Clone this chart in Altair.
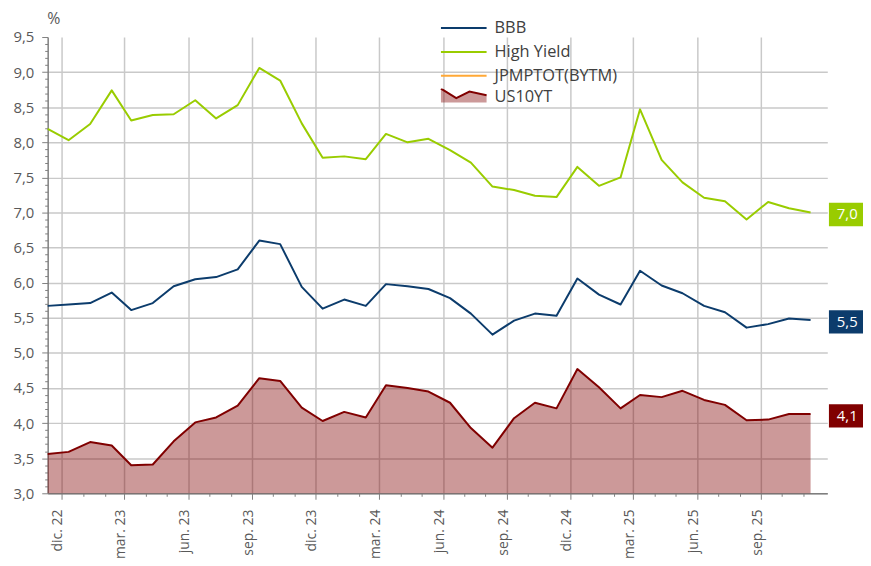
import altair as alt
import pandas as pd

# ---------------- data ----------------
dates = [f"{2022 + (10 + i) // 12}-{(10 + i) % 12 + 1:02d}-11T00:00:00" for i in range(37)]

bbb = [5.67, 5.69, 5.71, 5.86, 5.61, 5.71, 5.95, 6.05, 6.08, 6.19, 6.60, 6.55,
       5.94, 5.63, 5.76, 5.67, 5.98, 5.95, 5.91, 5.78, 5.56, 5.26, 5.46, 5.56,
       5.53, 6.06, 5.83, 5.69, 6.17, 5.96, 5.85, 5.67, 5.58, 5.36, 5.41, 5.49, 5.47]
high_yield = [8.19, 8.03, 8.26, 8.74, 8.31, 8.39, 8.40, 8.60, 8.34, 8.53, 9.06, 8.88,
              8.27, 7.78, 7.80, 7.76, 8.12, 8.00, 8.05, 7.89, 7.71, 7.37, 7.32, 7.24,
              7.22, 7.65, 7.38, 7.50, 8.47, 7.75, 7.43, 7.21, 7.16, 6.90, 7.15, 7.06, 7.00]
us10yt = [3.56, 3.59, 3.73, 3.68, 3.40, 3.41, 3.74, 4.01, 4.08, 4.25, 4.64, 4.60,
          4.22, 4.03, 4.16, 4.08, 4.54, 4.50, 4.45, 4.29, 3.93, 3.65, 4.07, 4.29,
          4.21, 4.77, 4.51, 4.21, 4.40, 4.37, 4.46, 4.33, 4.26, 4.04, 4.05, 4.13, 4.13]

line_series = ["BBB", "High Yield", "JPMPTOT(BYTM)"]
area_series = "US10YT"
month_abbr = ["ene.", "feb.", "mar.", "abr.", "may.", "jun.",
              "jul.", "ago.", "sep.", "oct.", "nov.", "dic."]

# ---------------- styles ----------------
NAVY = "#0C3C6C"
GREEN = "#99CC00"
ORANGE = "#FFA836"
MAROON = "#800000"
AREA_FILL = "rgba(128,0,0,0.4)"
FONT = "Open Sans"
AXIS_TEXT = "#595959"
LEG_TEXT = "#404040"
GRID = "#C9C9C9"
AXIS_LINE = "#7F7F7F"
W, H = 786, 460

df_lines = pd.DataFrame({
    "date": dates * 2,
    "series": ["BBB"] * len(dates) + ["High Yield"] * len(dates),
    "value": bbb + high_yield,
})
df_us = pd.DataFrame({"date": dates, "value": us10yt,
                      "series": [area_series] * len(dates), "s2": [area_series] * len(dates)})

last_vals = [high_yield[-1], bbb[-1], us10yt[-1]]
last_cols = [GREEN, NAVY, MAROON]
df_last = pd.DataFrame({
    "date": [dates[-1]] * 3,
    "value": last_vals,
    "label": [f"{v:.1f}".replace(".", ",") for v in last_vals],
})

# ---------------- scales & axes ----------------
x_scale = alt.Scale(domain=[alt.DateTime(year=2022, month=11, date=11),
                            alt.DateTime(year=2025, month=12, date=5)])
y_scale = alt.Scale(domain=[3.0, 9.5], nice=False, zero=False)

month_ticks = [alt.DateTime(year=2022 + (11 + i) // 12, month=(11 + i) % 12 + 1, date=1)
               for i in range(36)]
q_test = "month(datum.value) % 3 == 2"
abbr_js = "[" + ",".join(f"'{m}'" for m in month_abbr) + "]"

x_axis = alt.Axis(
    values=month_ticks, title=None,
    labelExpr=f"({q_test}) ? ({abbr_js}[month(datum.value)] + ' ' + timeFormat(datum.value, '%y')) : ''",
    labelAngle=270, labelAlign="right", labelBaseline="alphabetic", labelPadding=10,
    labelFont=FONT, labelFontSize=14, labelColor=AXIS_TEXT,
    labelOverlap=False, labelFlush=False,
    tickSize=alt.condition(q_test, alt.value(6), alt.value(3)),
    tickColor=AXIS_LINE, tickWidth=1,
    grid=True, gridColor=GRID, gridWidth=1.5,
    gridOpacity=alt.condition(q_test, alt.value(1), alt.value(0)),
    domainColor=AXIS_LINE, domainWidth=1.5,
)

y_vals = [round(3.0 + 0.1 * i, 1) for i in range(66)]
h_test = "abs(datum.value * 2 - round(datum.value * 2)) < 0.001"
y_axis = alt.Axis(
    values=y_vals, title="%", titleAngle=0, titleX=-1, titleY=-14,
    titleAlign="left", titleBaseline="alphabetic",
    titleFont=FONT, titleFontSize=16, titleFontWeight="normal", titleColor=AXIS_TEXT,
    labelExpr=f"({h_test}) ? replace(format(datum.value, '.1f'), '.', ',') : ''",
    labelFont=FONT, labelFontSize=15, labelColor=AXIS_TEXT, labelPadding=8,
    labelOverlap=False, labelFlush=False,
    tickSize=alt.condition(h_test, alt.value(6), alt.value(3)),
    tickColor=AXIS_LINE, tickWidth=1,
    grid=True, gridColor=GRID, gridWidth=1.5,
    gridOpacity=alt.condition(f"({h_test}) && datum.value < 9.4", alt.value(1), alt.value(0)),
    domainColor=AXIS_LINE, domainWidth=1.5,
)

x_enc = alt.X("date:T", scale=x_scale, axis=x_axis)
y_enc = alt.Y("value:Q", scale=y_scale, axis=y_axis)

# ---------------- legends ----------------
POLY = "M-1,-0.35L-0.33,0.07L0.25,-0.22L1,-0.06L1,0.26L-1,0.26Z"
ZIG = "M-1,-0.35L-0.33,0.07L0.25,-0.22L1,-0.06"
leg_common = dict(title=None, orient="none", padding=0, clipHeight=16, rowPadding=7,
                  labelOffset=7, labelFont=FONT, labelFontSize=16.5, labelColor=LEG_TEXT,
                  symbolSize=2116, symbolStrokeWidth=2, legendX=395.5)
color_legend = alt.Legend(symbolType="stroke", legendY=-17, **leg_common)
fill_legend = alt.Legend(symbolType=POLY, legendY=52, symbolStrokeColor="transparent", **leg_common)
stroke_legend = alt.Legend(symbolType=ZIG, legendY=52, symbolFillColor="transparent",
                           labelOpacity=0, **leg_common)

# ---------------- layers ----------------
area = alt.Chart(df_us).mark_area(interpolate="linear").encode(
    x=x_enc, y=y_enc, y2=alt.datum(3.0),
    fill=alt.Fill("series:N", scale=alt.Scale(domain=[area_series], range=[AREA_FILL]),
                  legend=fill_legend),
)
us_line = alt.Chart(df_us).mark_line(strokeWidth=2, strokeJoin="round").encode(
    x=x_enc, y=y_enc,
    stroke=alt.Stroke("s2:N", scale=alt.Scale(range=[MAROON]), legend=stroke_legend),
)
lines = alt.Chart(df_lines).mark_line(strokeWidth=2, strokeJoin="round").encode(
    x=x_enc, y=y_enc,
    color=alt.Color("series:N", scale=alt.Scale(domain=line_series, range=[NAVY, GREEN, ORANGE]),
                    legend=color_legend),
)

BOX = "M-1.49,-1H1.49V1H-1.49Z"
boxes = []
for i, col in enumerate(last_cols):
    boxes.append(
        alt.Chart(df_last.iloc[[i]]).mark_point(
            shape=BOX, size=552, filled=True, color=col, opacity=1, strokeWidth=0,
            xOffset=36, yOffset=2,
        ).encode(x=x_enc, y=y_enc)
    )
labels = alt.Chart(df_last).mark_text(
    color="white", font=FONT, fontSize=15, align="center", baseline="middle",
    xOffset=37, yOffset=2,
).encode(x=x_enc, y=y_enc, text="label:N")

chart = alt.layer(area, us_line, lines, *boxes, labels).properties(
    width=W, height=H,
    autosize=alt.AutoSizeParams(type="none"),
    padding={"left": 40, "top": 27, "right": 36, "bottom": 68},
).configure_view(strokeWidth=0)

chart.save("out.html", embed_options={"renderer": "svg", "actions": False})
